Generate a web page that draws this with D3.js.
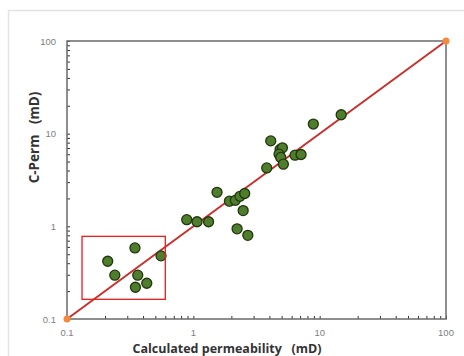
<!DOCTYPE html>
<html><head><meta charset="utf-8">
<script src="https://cdn.jsdelivr.net/npm/d3@7"></script>
<style>
html,body{margin:0;padding:0;background:#fff;overflow:hidden}
svg{display:block}
text.title{white-space:pre}
</style></head>
<body>
<script>
// Data
const calcPerm = [0.21,0.345,0.555,0.239,0.363,0.428,0.348,
  0.887,1.07,1.32,1.54,1.93,2.15,2.34,2.55,2.48,2.22,2.70,
  3.81,4.10,4.86,5.07,4.77,4.92,5.16,6.38,7.12,8.91,14.8];
const cPerm = [0.42,0.585,0.48,0.297,0.297,0.243,0.22,
  1.18,1.12,1.12,2.33,1.87,1.91,2.11,2.26,1.48,0.94,0.80,
  4.27,8.36,6.75,7.03,6.01,5.54,4.69,5.86,5.96,12.7,16.0];
const lineX = [0.1, 100];
const lineY = [0.1, 100];
const tickValues = [0.1, 1, 10, 100];
const tickLabels = ["0.1", "1", "10", "100"];
const boxX = [0.1315, 0.60];
const boxY = [0.163, 0.78];

const W = 464, H = 356;
const svg = d3.select("body").append("svg").attr("width", W).attr("height", H);

// outer frame
svg.append("path").attr("d", `M8.5,${H} V10.5 H${W}`).attr("fill","none")
  .attr("stroke","#e3e3e3").attr("stroke-width",1.5);

const x = d3.scaleLog().domain([0.1,100]).range([67,446]);
const y = d3.scaleLog().domain([0.1,100]).range([319,41]);

const minor = [];
[0.1,1,10].forEach(d => { for (let k=2;k<=9;k++) minor.push(d*k); });

const frameColor = "#6a6a6a";
const gx = svg.append("g").attr("transform","translate(0,319)")
  .call(d3.axisBottom(x).tickValues(minor.concat(tickValues)).tickSize(-3).tickFormat(""));
const gy = svg.append("g").attr("transform","translate(67,0)")
  .call(d3.axisLeft(y).tickValues(minor.concat(tickValues)).tickSize(-3).tickFormat(""));
[gx,gy].forEach(g => {
  g.select(".domain").remove();
  g.selectAll(".tick line").attr("stroke","#333").attr("stroke-width",1);
});
svg.append("rect").attr("x",67).attr("y",41).attr("width",446-67).attr("height",319-41)
  .attr("fill","none").attr("stroke",frameColor).attr("stroke-width",1.5);

// tick labels
const lab = {fill:"#808080", size:"9.5px", fam:"'Liberation Sans', Arial, sans-serif"};
svg.append("g").selectAll("text").data(tickValues).join("text")
  .attr("x", d => x(d)).attr("y", 336)
  .attr("text-anchor","middle").attr("fill",lab.fill).attr("font-size",lab.size)
  .attr("font-family",lab.fam).text((d,i)=>tickLabels[i]);
svg.append("g").selectAll("text").data(tickValues).join("text")
  .attr("x", 56).attr("y", d => y(d)+3.5)
  .attr("text-anchor","end").attr("fill",lab.fill).attr("font-size",lab.size)
  .attr("font-family",lab.fam).text((d,i)=>tickLabels[i]);

// axis titles
svg.append("text").attr("class","title").attr("x",227).attr("y",352.5).attr("text-anchor","middle")
  .attr("font-family","'Open Sans', 'Liberation Sans', sans-serif").attr("font-weight","bold")
  .attr("font-size","12.5px").attr("fill","#333")
  .text("Calculated permeability   (mD)");
svg.append("text").attr("class","title").attr("transform","translate(38.5,137.5) rotate(-90)").attr("text-anchor","middle")
  .attr("font-family","'Open Sans', 'Liberation Sans', sans-serif").attr("font-weight","bold")
  .attr("font-size","13.5px").attr("fill","#333")
  .text("C-Perm   (mD)");

// 1:1 line
const lineData = lineX.map((d,i)=>[d,lineY[i]]);
svg.append("path").datum(lineData)
  .attr("d", d3.line().x(d=>x(d[0])).y(d=>y(d[1])))
  .attr("stroke","#c9302c").attr("stroke-width",2).attr("fill","none");

// points
const pts = calcPerm.map((d,i)=>[d,cPerm[i]]);
svg.append("g").selectAll("circle").data(pts).join("circle")
  .attr("cx", d=>x(d[0])).attr("cy", d=>y(d[1])).attr("r",5)
  .attr("fill","#4e7d2c").attr("stroke","#22360f").attr("stroke-width",1.3);

// line end markers
svg.append("g").selectAll("circle").data(lineData).join("circle")
  .attr("cx", d=>x(d[0])).attr("cy", d=>y(d[1])).attr("r",3.5)
  .attr("fill","#f58a3c");

// red highlight box
svg.append("rect").attr("x",x(boxX[0])).attr("y",y(boxY[1]))
  .attr("width",x(boxX[1])-x(boxX[0])).attr("height",y(boxY[0])-y(boxY[1]))
  .attr("fill","none").attr("stroke","#ee1c1c").attr("stroke-width",1.3);
</script>
</body></html>
